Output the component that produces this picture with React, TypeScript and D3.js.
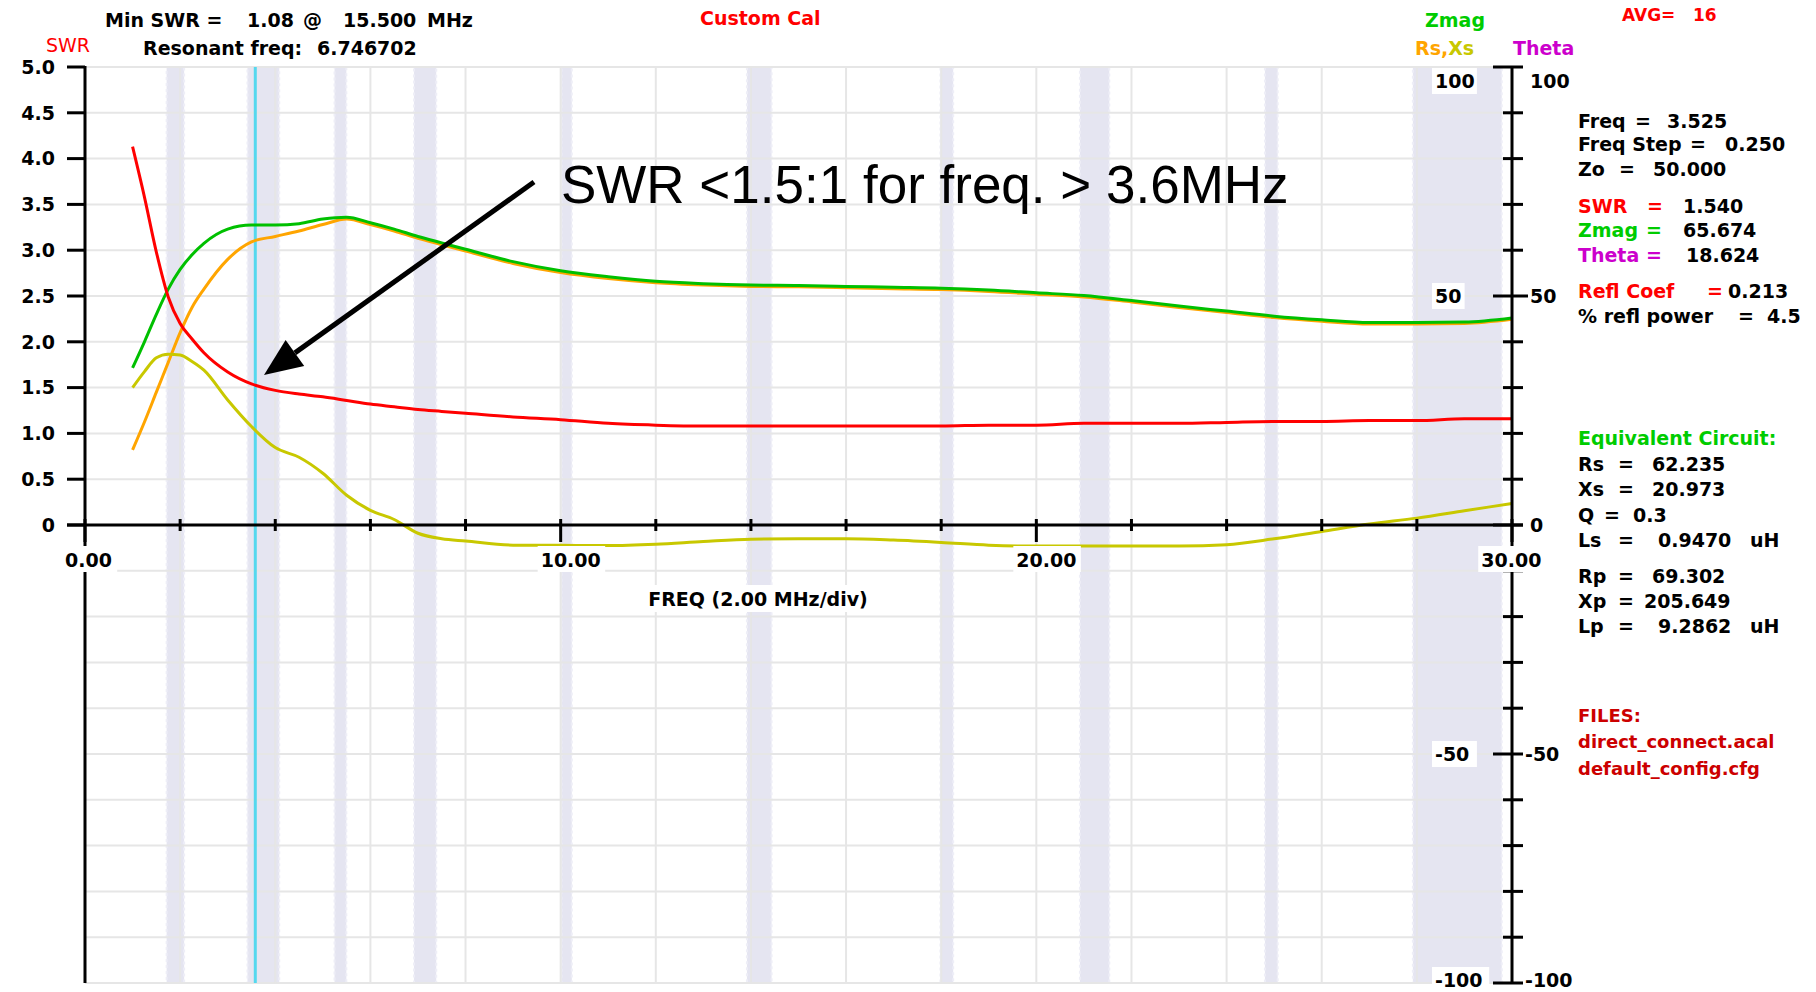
import React from "react";
import * as d3 from "d3";

// sweep points (MHz)
const freqs = [1, 1.25, 1.5, 1.75, 2, 2.25, 2.5, 3, 3.5, 4, 4.5, 5, 5.5, 6, 6.5, 7, 7.5, 8, 9, 10,
  11, 12, 13, 14, 15, 16, 17, 18, 19, 20, 21, 22, 23, 24, 25, 26, 27, 28, 29, 30];
const swrValues = [4.13, 3.58, 2.98, 2.49, 2.2, 2.03, 1.88, 1.67, 1.54, 1.47, 1.43, 1.4, 1.36, 1.32, 1.29, 1.26, 1.24, 1.22, 1.18, 1.15,
  1.11, 1.09, 1.08, 1.08, 1.08, 1.08, 1.08, 1.08, 1.09, 1.09, 1.11, 1.11, 1.11, 1.12, 1.13, 1.13, 1.14, 1.14, 1.16, 1.16];
const zmagValues = [34.3, 40, 46, 51.5, 55.8, 59, 61.5, 64.6, 65.5, 65.5, 65.8, 66.8, 67.2, 66, 64.6, 63, 61.6, 60.2, 57.5, 55.5,
  54.2, 53.2, 52.7, 52.4, 52.3, 52.1, 51.9, 51.7, 51.3, 50.7, 50.1, 49, 47.8, 46.7, 45.6, 44.8, 44.2, 44.2, 44.3, 45.2];
const rsValues = [16.4, 22.5, 29, 35.5, 42, 47.5, 51.5, 58, 61.8, 63, 64.2, 65.6, 66.8, 65.6, 64.2, 62.6, 61.2, 59.8, 57.1, 55.1,
  53.8, 52.9, 52.4, 52.1, 52, 51.8, 51.6, 51.4, 51, 50.4, 49.8, 48.7, 47.5, 46.4, 45.3, 44.5, 43.9, 43.9, 44, 44.9];
const xsValues = [30, 33.5, 36.5, 37.3, 37.1, 35.7, 33.8, 27.3, 21.5, 16.9, 14.8, 11.3, 6.5, 3.2, 1.2, -1.8, -3, -3.5, -4.4, -4.4,
  -4.5, -4.2, -3.6, -3.1, -3, -3, -3.3, -3.8, -4.4, -4.6, -4.6, -4.6, -4.6, -4.3, -3, -1.4, 0.2, 1.5, 3.1, 4.7];

// amateur bands shaded on the plot (MHz)
const bandStart = [1.8, 3.5, 5.33, 7.0, 10.1, 14.0, 18.068, 21.0, 24.89, 28.0];
const bandEnd = [2.0, 4.0, 5.41, 7.3, 10.15, 14.35, 18.168, 21.45, 24.99, 29.7];

const cursorFreq = 3.58;

const swrTicks = [0, 0.5, 1, 1.5, 2, 2.5, 3, 3.5, 4, 4.5, 5];
const swrTickLabels = ["0", "0.5", "1.0", "1.5", "2.0", "2.5", "3.0", "3.5", "4.0", "4.5", "5.0"];
const freqLabelTicks = [0, 10, 20, 30];
const rightMajor = [100, 50, 0, -50, -100];

const panelRows = [
  { label: "Freq", eqX: 1635, value: "3.525", vx: 1667, y: 128, color: "#000" },
  { label: "Freq Step", eqX: 1690, value: "0.250", vx: 1725, y: 151, color: "#000" },
  { label: "Zo", eqX: 1619, value: "50.000", vx: 1653, y: 176, color: "#000" },
  { label: "SWR", eqX: 1647, value: "1.540", vx: 1683, y: 213, color: "#ff0000" },
  { label: "Zmag", eqX: 1646, value: "65.674", vx: 1683, y: 237, color: "#00cc00" },
  { label: "Theta", eqX: 1646, value: "18.624", vx: 1686, y: 262, color: "#cc00cc" },
  { label: "Refl Coef", eqX: 1707, value: "0.213", vx: 1728, y: 298, color: "#ff0000" },
  { label: "% refl power", eqX: 1738, value: "4.5", vx: 1767, y: 323, color: "#000" },
  { label: "Rs", eqX: 1618, value: "62.235", vx: 1652, y: 471, color: "#000" },
  { label: "Xs", eqX: 1618, value: "20.973", vx: 1652, y: 496, color: "#000" },
  { label: "Q", eqX: 1604, value: "0.3", vx: 1633, y: 522, color: "#000" },
  { label: "Ls", eqX: 1618, value: "0.9470", vx: 1658, y: 547, color: "#000", unit: "uH" },
  { label: "Rp", eqX: 1618, value: "69.302", vx: 1652, y: 583, color: "#000" },
  { label: "Xp", eqX: 1618, value: "205.649", vx: 1644, y: 608, color: "#000" },
  { label: "Lp", eqX: 1618, value: "9.2862", vx: 1658, y: 633, color: "#000", unit: "uH" },
];

const files = ["direct_connect.acal", "default_config.cfg"];

const FONT = "'DejaVu Sans', sans-serif";

export default function App() {
  const width = 1816;
  const height = 992;
  const left = 85, right = 1512, top = 67, bottom = 983;

  const x = d3.scaleLinear().domain([0, 30]).range([left, right]);
  const ySwr = d3.scaleLinear().domain([0, 5]).range([525, top]);
  const yZ = d3.scaleLinear().domain([-100, 100]).range([bottom, top]);
  const zero = yZ(0);

  const gridY = d3.range(-100, 101, 10);
  const gridX = d3.range(0, 31, 2);

  const mk = (vals: number[], y: any) =>
    d3.line<number>()
      .x((_, i) => x(freqs[i]))
      .y(d => y(d))
      .curve(d3.curveMonotoneX)(vals) || "";

  // arrow geometry
  const ax0 = 534, ay0 = 182, ax1 = 264, ay1 = 375;
  const len = Math.hypot(ax1 - ax0, ay1 - ay0);
  const ux = (ax1 - ax0) / len, uy = (ay1 - ay0) / len;
  const headL = 38, headW = 16;
  const bx = ax1 - ux * headL, by = ay1 - uy * headL;
  const head = [[ax1, ay1], [bx - uy * headW, by + ux * headW], [bx + uy * headW, by - ux * headW]]
    .map(p => p.join(",")).join(" ");

  const bold = { fontFamily: FONT, fontWeight: 700, fontSize: 19 } as const;

  return (
    <div style={{ position: "absolute", left: 0, top: 0 }}>
      <svg width={width} height={height} style={{ display: "block", background: "#fff" }}>
        {/* band shading */}
        <g>
          {bandStart.map((s, i) => (
            <rect key={i} x={x(s) - 4} y={top} width={x(bandEnd[i]) - x(s) + 8} height={bottom - top}
              fill="#e5e5f1" stroke="#eeeef7" strokeWidth={2} strokeDasharray="3,3" />
          ))}
        </g>
        {/* grid */}
        <g stroke="#e6e6e6" strokeWidth={2}>
          {gridY.map(v => <line key={"h" + v} x1={left} x2={right} y1={yZ(v)} y2={yZ(v)} />)}
          {gridX.map(v => <line key={"v" + v} x1={x(v)} x2={x(v)} y1={top} y2={bottom} />)}
        </g>
        {/* cursor */}
        <line x1={x(cursorFreq)} x2={x(cursorFreq)} y1={top} y2={bottom} stroke="#55d8ee" strokeWidth={3} />

        {/* traces */}
        <g fill="none" strokeWidth={3}>
          <path d={mk(rsValues, yZ)} stroke="#ffa500" />
          <path d={mk(zmagValues, yZ)} stroke="#00c000" />
          <path d={mk(xsValues, yZ)} stroke="#c8c800" />
          <path d={mk(swrValues, ySwr)} stroke="#ff0000" />
        </g>

        {/* axes */}
        <g stroke="#000" strokeWidth={3}>
          <line x1={left} x2={left} y1={top - 1} y2={bottom} />
          <line x1={right} x2={right} y1={top - 1} y2={bottom} />
          <line x1={67} x2={right + 11} y1={zero} y2={zero} />
          {swrTicks.map(v => <line key={"st" + v} x1={67} x2={left} y1={ySwr(v)} y2={ySwr(v)} />)}
          {gridX.map(v => (
            <line key={"xt" + v} x1={x(v)} x2={x(v)} y1={zero - 6}
              y2={freqLabelTicks.includes(v) ? zero + 17 : zero + 6} />
          ))}
          {gridY.map(v => (
            <line key={"rt" + v} x1={rightMajor.includes(v) ? right - 19 : right - 9} x2={right + 11}
              y1={yZ(v)} y2={yZ(v)} />
          ))}
          <line x1={right + 11} x2={right + 16} y1={yZ(50)} y2={yZ(50)} />
        </g>

        {/* left SWR labels */}
        <g {...bold} textAnchor="end" fill="#000">
          {swrTicks.map((v, i) => (
            <text key={v} x={55} y={ySwr(v)} dy="0.36em">{swrTickLabels[i]}</text>
          ))}
        </g>

        {/* freq labels with white boxes */}
        <g {...bold} fill="#000">
          {freqLabelTicks.map(v => {
            const lbl = v.toFixed(2);
            const w = lbl.length * 12.3;
            const lx = v === 30 ? x(v) - w / 2 : x(v) - 20;
            return (
              <g key={v}>
                <rect x={lx - 3} y={546} width={w + 6} height={26} fill="#fff" />
                <text x={lx} y={567}>{lbl}</text>
              </g>
            );
          })}
          <rect x={636} y={585} width={244} height={27} fill="#fff" />
          <text x={758} y={606} textAnchor="middle">FREQ (2.00 MHz/div)</text>
        </g>

        {/* right axis labels */}
        <g {...bold} fill="#000">
          {rightMajor.map(v => {
            const cy = v === 100 ? 81 : v === -100 ? 980 : yZ(v);
            return (
              <text key={"r" + v} x={v < 0 ? 1525 : 1530} y={cy} dy="0.36em">{v}</text>
            );
          })}
          {rightMajor.filter(v => v !== 0).map(v => {
            const cy = v === 100 ? 81 : v === -100 ? 980 : yZ(v);
            const lbl = String(v);
            const w = lbl.length * 12.3;
            return (
              <g key={"i" + v}>
                <rect x={1432} y={cy - 13} width={w + 8} height={26} fill="#fff" />
                <text x={1435} y={cy} dy="0.36em">{lbl}</text>
              </g>
            );
          })}
        </g>

        {/* header */}
        <g {...bold} fill="#000">
          <text x={105} y={27}>Min SWR =</text>
          <text x={247} y={27}>1.08</text>
          <text x={303} y={27}>@</text>
          <text x={343} y={27}>15.500</text>
          <text x={427} y={27}>MHz</text>
          <text x={143} y={55}>Resonant freq:</text>
          <text x={317} y={55}>6.746702</text>
          <text x={700} y={25} fill="#ff0000">Custom Cal</text>
          <text x={1425} y={27} fill="#00cc00">Zmag</text>
          <text x={1415} y={55} fill="#ffa500">Rs,<tspan fill="#c8c800">Xs</tspan></text>
          <text x={1513} y={55} fill="#cc00cc">Theta</text>
          <text x={1622} y={21} fill="#ff0000" fontSize={17}>AVG=</text>
          <text x={1693} y={21} fill="#ff0000" fontSize={17}>16</text>
        </g>
        <text x={46} y={52} fontFamily={FONT} fontSize={19} fill="#ff0000">SWR</text>

        {/* readout panel */}
        <g {...bold}>
          {panelRows.map(r => (
            <g key={r.label}>
              <text x={1578} y={r.y} fill={r.color}>{r.label}</text>
              <text x={r.eqX} y={r.y} fill={r.color}>=</text>
              <text x={r.vx} y={r.y} fill="#000">{r.value}</text>
              {r.unit ? <text x={1750} y={r.y} fill="#000">{r.unit}</text> : null}
            </g>
          ))}
          <text x={1578} y={445} fill="#00cc00">Equivalent Circuit:</text>
          <text x={1578} y={722} fill="#cc0000" fontSize={18}>FILES:</text>
          {files.map((f, i) => (
            <text key={f} x={1578} y={748 + i * 27} fill="#cc0000" fontSize={18}>{f}</text>
          ))}
        </g>

        {/* annotation */}
        <line x1={ax0} y1={ay0} x2={bx} y2={by} stroke="#000" strokeWidth={5} />
        <polygon points={head} fill="#000" />
        <text x={561} y={203} fontFamily="'Liberation Sans', Arial, sans-serif" fontSize={53} fill="#000">
          SWR &lt;1.5:1 for freq. &gt; 3.6MHz
        </text>
      </svg>
    </div>
  );
}
